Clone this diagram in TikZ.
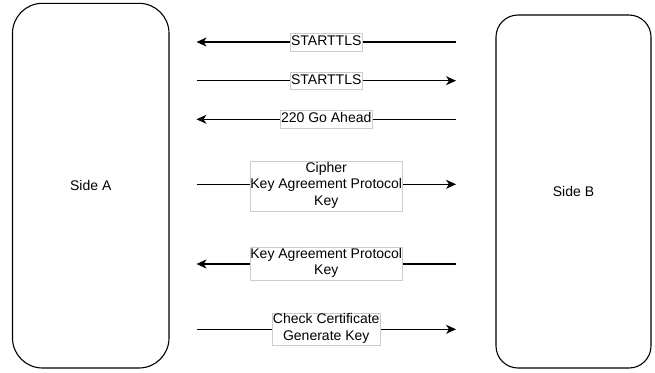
\documentclass[tikz,border=0pt]{standalone}
\usepackage{fontspec}
\setmainfont{Liberation Sans}
\usetikzlibrary{arrows.meta}

\tikzset{
  side/.style={draw, line width=1.1pt, rounded corners=#1, font=\fontsize{14}{16.8}\selectfont},
  msg/.style={line width=1.1pt, -{Stealth[length=10pt,width=9pt,inset=3pt]}},
  lbl/.style={draw=gray!40, line width=0.6pt, fill=white, inner sep=0.5pt, align=center,
    font=\fontsize{14}{16.8}\selectfont, execute at begin node=\strut, execute at end node=\strut}
}

\begin{document}
\begin{tikzpicture}[x=1pt,y=-1pt]
	\useasboundingbox (0,0) rectangle (655,372);

	% the two sides
	\node[side=30pt, minimum width=156.5pt, minimum height=364.7pt] (sideA) at (90.75,185.65) {Side A};
	\node[side=22pt, minimum width=155pt, minimum height=353pt] (sideB) at (573.5,191.5) {Side B};

	% ends of the messages
	\foreach \i/\y in {1/42,2/80.7,3/119.3,4/184.3,5/264,6/329.3} {
		\coordinate (a\i) at (196.5,\y);
		\coordinate (b\i) at (456,\y);
	}

	\draw[msg] (b1) -- node[lbl] (m1) {STARTTLS} (a1);
	\draw[msg] (a2) -- node[lbl] (m2) {STARTTLS} (b2);
	\draw[msg] (b3) -- node[lbl] (m3) {220 Go Ahead} (a3);
	\draw[msg] (a4) -- node[lbl, yshift=-2pt] (m4) {Cipher\\Key Agreement Protocol\\Key} (b4);
	\draw[msg] (b5) -- node[lbl] (m5) {Key Agreement Protocol\\Key} (a5);
	\draw[msg] (a6) -- node[lbl] (m6) {Check Certificate\\Generate Key} (b6);
\end{tikzpicture}
\end{document}
